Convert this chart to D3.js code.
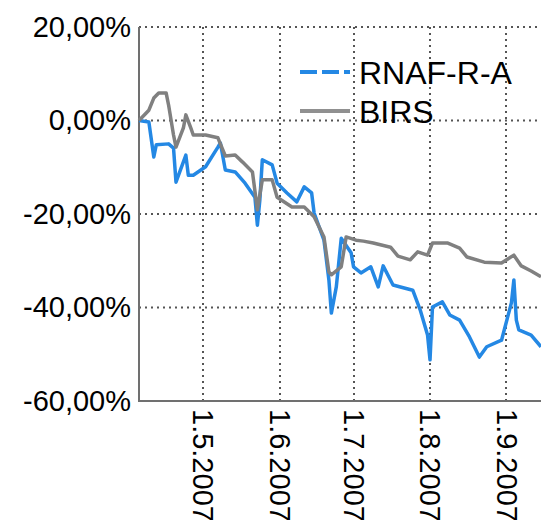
<!DOCTYPE html>
<html>
<head>
<meta charset="utf-8">
<script src="https://cdn.jsdelivr.net/npm/d3@7"></script>
<style>
  body { margin: 0; background: #fff; }
  svg { display: block; font-family: "Liberation Sans", Arial, sans-serif; }
</style>
</head>
<body>
<div id="chart"></div>
<script>
// series names
var seriesNames = ["RNAF-R-A", "BIRS"];

// RNAF-R-A (blue, dashed)
var rnafDates = ["2007-04-05","2007-04-09","2007-04-11","2007-04-12","2007-04-17","2007-04-19","2007-04-20",
  "2007-04-24","2007-04-25","2007-04-27","2007-05-02","2007-05-07","2007-05-08","2007-05-10","2007-05-14",
  "2007-05-18","2007-05-22","2007-05-23","2007-05-24","2007-05-25","2007-05-29","2007-05-31","2007-06-04",
  "2007-06-08","2007-06-11","2007-06-14","2007-06-15","2007-06-19","2007-06-21","2007-06-22","2007-06-24",
  "2007-06-26","2007-06-30","2007-07-01","2007-07-04","2007-07-08","2007-07-11","2007-07-13","2007-07-17",
  "2007-07-20","2007-07-25","2007-07-28","2007-07-31","2007-08-01","2007-08-02","2007-08-06","2007-08-09",
  "2007-08-13","2007-08-17","2007-08-21","2007-08-24","2007-08-30","2007-09-03","2007-09-04","2007-09-05",
  "2007-09-06","2007-09-11","2007-09-15"];
var rnafValues = [0, -0.3, -7.8, -5.2, -5.0, -5.9, -13.2,
  -7.4, -11.7, -11.7, -9.9, -5.7, -4.8, -10.6, -11.0,
  -13.4, -16.4, -22.4, -17.0, -8.4, -9.5, -13.4, -15.5,
  -17.4, -14.2, -15.5, -19.8, -25.6, -34.1, -41.2, -35.6,
  -25.2, -28.3, -31.3, -32.6, -31.3, -35.6, -31.1, -35.2,
  -35.6, -36.3, -40.5, -45.9, -51.2, -39.9, -38.8, -41.6,
  -42.7, -46.3, -50.6, -48.4, -47.0, -39.0, -34.1, -42.7,
  -44.8, -45.9, -48.4];

// BIRS (grey)
var birsDates = ["2007-04-05","2007-04-09","2007-04-11","2007-04-13","2007-04-16","2007-04-17","2007-04-19",
  "2007-04-20","2007-04-23","2007-04-24","2007-04-26","2007-04-27","2007-05-02","2007-05-07","2007-05-10",
  "2007-05-14","2007-05-17","2007-05-21","2007-05-23","2007-05-25","2007-05-29","2007-05-31","2007-06-06",
  "2007-06-11","2007-06-15","2007-06-19","2007-06-21","2007-06-22","2007-06-26","2007-06-28","2007-07-02",
  "2007-07-05","2007-07-09","2007-07-16","2007-07-19","2007-07-24","2007-07-27","2007-07-31","2007-08-02",
  "2007-08-08","2007-08-13","2007-08-16","2007-08-23","2007-08-30","2007-09-04","2007-09-07","2007-09-11",
  "2007-09-15"];
var birsValues = [0, 2.2, 4.8, 5.9, 5.9, 3.3, -3.1,
  -5.7, -1.6, 1.2, -1.6, -3.1, -3.1, -3.7, -7.6,
  -7.4, -8.9, -11.0, -19.1, -12.7, -12.7, -16.4, -18.5,
  -18.5, -20.6, -24.9, -32.4, -33.0, -31.3, -24.9, -25.6,
  -25.8, -26.2, -27.1, -29.0, -29.8, -28.1, -28.8, -26.2,
  -26.2, -27.3, -29.2, -30.3, -30.5, -28.8, -31.1, -32.2,
  -33.4];

var yTicks = [20, 0, -20, -40, -60];
var xTicks = ["2007-05-01", "2007-06-01", "2007-07-01", "2007-08-01", "2007-09-01"];
var xStart = "2007-04-05", xEnd = "2007-09-15";

var width = 541, height = 520;
var margin = {top: 27, right: 0, bottom: 119, left: 139};

var parse = d3.timeParse("%Y-%m-%d");

var svg = d3.select("#chart").append("svg")
    .attr("width", width)
    .attr("height", height);

svg.append("rect").attr("width", width).attr("height", height).attr("fill", "#fff");

var x = d3.scaleTime()
    .domain([parse(xStart), parse(xEnd)])
    .range([margin.left, width - margin.right]);

var y = d3.scaleLinear()
    .domain([-60, 20])
    .range([height - margin.bottom, margin.top]);

// dotted grid
var grid = svg.append("g").attr("class", "grid")
    .attr("stroke", "#555")
    .attr("stroke-width", 2)
    .attr("stroke-dasharray", "2,4");

grid.selectAll(".gy")
    .data(yTicks.filter(function (d) { return d !== -60; }))
    .enter().append("line")
    .attr("x1", margin.left)
    .attr("x2", width)
    .attr("y1", function (d) { return y(d); })
    .attr("y2", function (d) { return y(d); });

grid.selectAll(".gx")
    .data(xTicks)
    .enter().append("line")
    .attr("x1", function (d) { return Math.round(x(parse(d))); })
    .attr("x2", function (d) { return Math.round(x(parse(d))); })
    .attr("y1", margin.top)
    .attr("y2", height - margin.bottom);

// y axis labels
var fmt = function (d) { return d.toFixed(2).replace(".", ",") + "%"; };

var yAxis = d3.axisLeft(y)
    .tickValues(yTicks)
    .tickSize(0)
    .tickPadding(8)
    .tickFormat(fmt);

var gY = svg.append("g")
    .attr("transform", "translate(" + margin.left + ",0)")
    .call(yAxis);
gY.select(".domain").remove();
gY.selectAll("text")
    .attr("font-size", 29)
    .attr("font-family", "Liberation Sans, Arial, sans-serif")
    .attr("fill", "#000");

// x axis labels (rotated)
var xAxis = d3.axisBottom(x)
    .tickValues(xTicks.map(parse))
    .tickSize(0)
    .tickFormat(d3.timeFormat("%-d.%-m.%Y"));

var gX = svg.append("g")
    .attr("transform", "translate(0," + (height - margin.bottom) + ")")
    .call(xAxis);
gX.select(".domain").remove();
gX.selectAll("text")
    .attr("font-size", 29)
    .attr("font-family", "Liberation Sans, Arial, sans-serif")
    .attr("fill", "#000")
    .attr("transform", "rotate(90)")
    .attr("x", 8)
    .attr("y", 0)
    .attr("dy", "0.35em")
    .attr("text-anchor", "start");

// axis frame
svg.append("path")
    .attr("d", "M" + margin.left + "," + margin.top + "V" + (height - margin.bottom) + "H" + width)
    .attr("fill", "none")
    .attr("stroke", "#707070")
    .attr("stroke-width", 2);

// lines
var line = d3.line()
    .x(function (d) { return x(d.date); })
    .y(function (d) { return y(d.value); });

var rnaf = rnafDates.map(function (d, i) { return {date: parse(d), value: rnafValues[i]}; });
var birs = birsDates.map(function (d, i) { return {date: parse(d), value: birsValues[i]}; });

svg.append("path")
    .datum(rnaf)
    .attr("d", line)
    .attr("fill", "none")
    .attr("stroke", "#2488e4")
    .attr("stroke-width", 3.5)
    .attr("stroke-linejoin", "round");

svg.append("path")
    .datum(birs)
    .attr("d", line)
    .attr("fill", "none")
    .attr("stroke", "#808080")
    .attr("stroke-width", 3.5)
    .attr("stroke-linejoin", "round");

// legend
var legend = svg.append("g").attr("class", "legend");
var legendItems = [
    {name: seriesNames[0], color: "#2488e4", dash: "17,5", y: 72},
    {name: seriesNames[1], color: "#909090", dash: null, y: 111}
];
legendItems.forEach(function (d) {
    legend.append("line")
        .attr("x1", 300).attr("x2", 350)
        .attr("y1", d.y).attr("y2", d.y)
        .attr("stroke", d.color)
        .attr("stroke-width", 4)
        .attr("stroke-dasharray", d.dash);
    legend.append("text")
        .attr("x", 359)
        .attr("y", d.y)
        .attr("dy", "0.36em")
        .attr("font-size", 32)
        .attr("fill", "#000")
        .text(d.name);
});
</script>
</body>
</html>
